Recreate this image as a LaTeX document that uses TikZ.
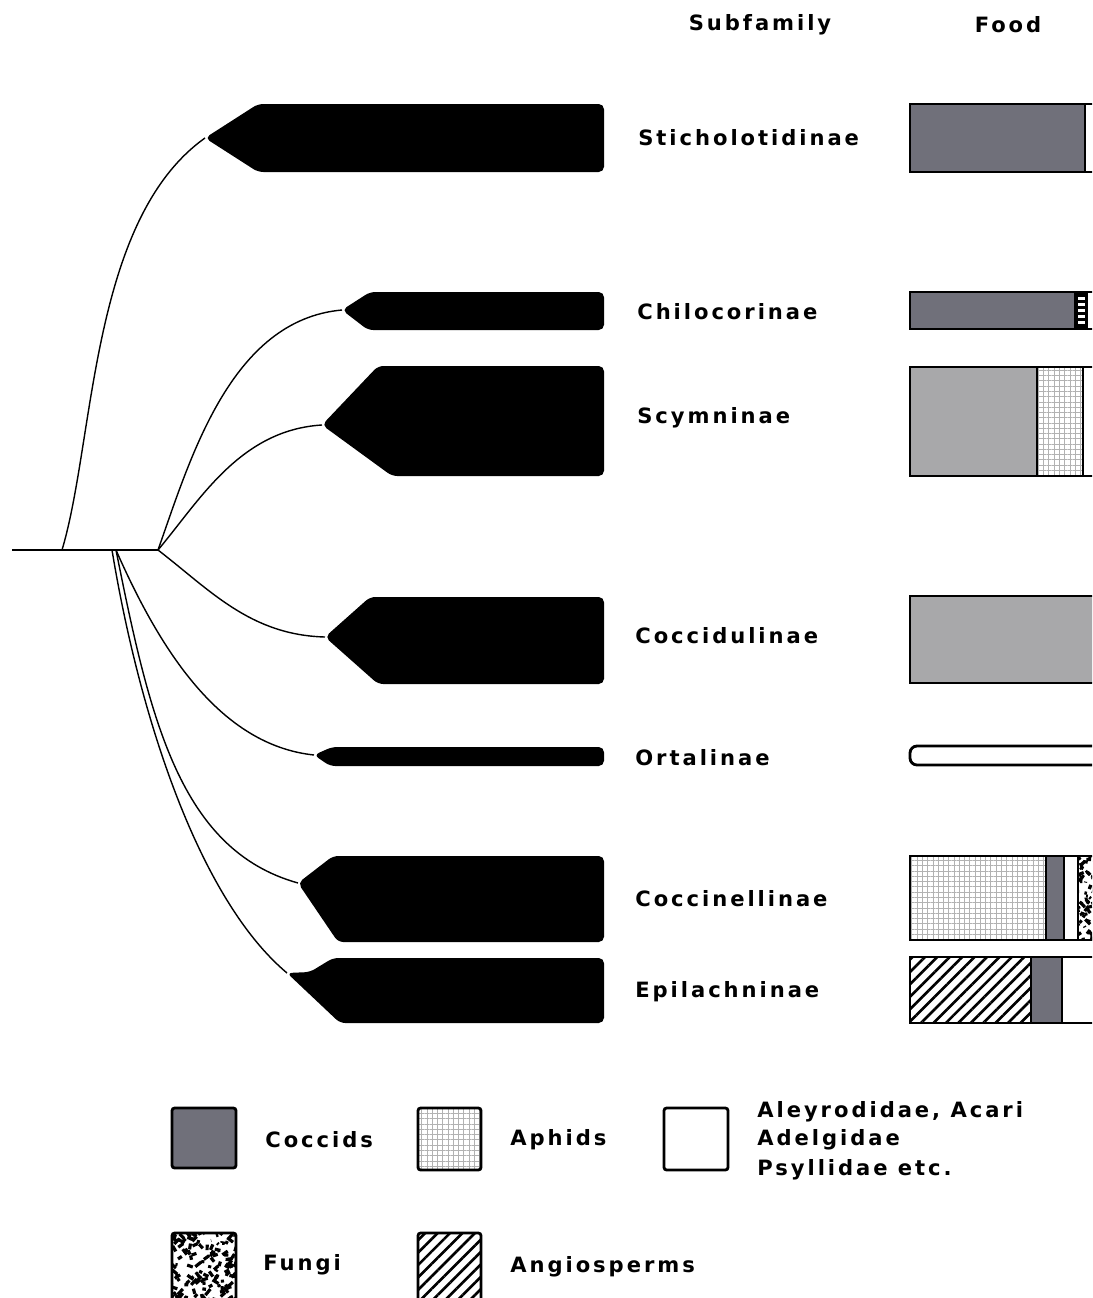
\documentclass[tikz,border=0pt]{standalone}
\usepackage{fontspec}
\setmainfont{DejaVu Sans}
\newfontfamily\labfont[LetterSpace=14]{DejaVu Sans}
\usetikzlibrary{patterns.meta}
\definecolor{coccdark}{RGB}{112,112,122}
\definecolor{coccpale}{RGB}{168,168,170}

\begin{document}
\begin{tikzpicture}[x=0.02cm,y=-0.02cm,
    branch/.style={line width=0.8pt},
    lineage/.style={fill=black,rounded corners=3pt},
    foodbar/.style={draw=black,line width=1.6pt},
    divider/.style={line width=1.2pt},
    legbox/.style={draw=black,line width=1.6pt,rounded corners=1.5pt},
    aphid/.style={pattern={Hatch[angle=0,distance=3pt,line width=0.5pt]},pattern color=gray!60},
    angio/.style={pattern={Lines[angle=45,distance=5pt,line width=1.5pt]}},
    txt/.style={anchor=west,inner sep=0pt,font=\labfont\bfseries\fontsize{12}{14}\selectfont}]
    \useasboundingbox (0,0) rectangle (1092,1298);
    \clip (0,0) rectangle (1092,1298);
    % Titulos
    \node[txt,anchor=center] (hsub) at (760,25) {Subfamily};
    \node[txt,anchor=center] (hfood) at (1008,25) {Food};
    % Pontos de ramificacao
    \coordinate (root) at (12,550);
    \coordinate (nA) at (62,550);
    \coordinate (nB) at (158,550);
    \coordinate (nC) at (116,550);
    \coordinate (nD) at (112,550);
    % Pontas das linhagens
    \coordinate (tStich) at (205,138);
    \coordinate (tChilo) at (342,310);
    \coordinate (tScym) at (322,425);
    \coordinate (tCocci) at (325,637);
    \coordinate (tOrta) at (314,755);
    \coordinate (tCoccin) at (298,883);
    \coordinate (tEpil) at (287,973);
    % Ramos
    \draw[branch] (root) -- (nB);
    \draw[branch] (nA) .. controls (95,440) and (90,220) .. (tStich);
    \draw[branch] (nB) .. controls (190,460) and (230,320) .. (tChilo);
    \draw[branch] (nB) .. controls (200,500) and (240,430) .. (tScym);
    \draw[branch] (nB) .. controls (210,590) and (250,635) .. (tCocci);
    \draw[branch] (nC) .. controls (160,650) and (220,745) .. (tOrta);
    \draw[branch] (nC) .. controls (150,720) and (180,850) .. (tCoccin);
    \draw[branch] (nD) .. controls (140,720) and (200,900) .. (tEpil);
    % Linhagens (barras pretas)
    \fill[lineage] (tStich) -- (258,104) -- (604,104) -- (604,172) -- (258,172) -- cycle;
    \fill[lineage] (tChilo) -- (370,292) -- (604,292) -- (604,330) -- (368,330) -- cycle;
    \fill[lineage] (tScym) -- (378,366) -- (604,366) -- (604,476) -- (392,476) -- cycle;
    \fill[lineage] (tCocci) -- (370,597) -- (604,597) -- (604,684) -- (378,684) -- cycle;
    \fill[lineage] (tOrta) -- (332,747) -- (604,747) -- (604,766) -- (330,766) -- cycle;
    \fill[lineage] (tCoccin) -- (333,856) -- (604,856) -- (604,942) -- (338,942) -- cycle;
    \fill[lineage] (tEpil) -- (310,972) -- (333,958) -- (604,958) -- (604,1023) -- (340,1023) -- cycle;
    % Subfamilias
    \node[txt] (stich) at (638,138) {Sticholotidinae};
    \node[txt] (chilo) at (637,312) {Chilocorinae};
    \node[txt] (scym) at (637,418) {Scymninae};
    \node[txt] (cocci) at (635,636) {Coccidulinae};
    \node[txt] (orta) at (635,758) {Ortalinae};
    \node[txt] (coccin) at (635,899) {Coccinellinae};
    \node[txt] (epil) at (635,992) {Epilachninae};
    % Alimento: Sticholotidinae
    \fill[coccdark] (910,104) rectangle (1085,172);
    \draw[divider] (1085,104) -- (1085,172);
    \draw[foodbar] (910,104) rectangle (1110,172);
    % Alimento: Chilocorinae
    \fill[coccdark] (910,292) rectangle (1074,329);
    \fill[black] (1074,292) rectangle (1088,329);
    \foreach \yy in {297,303,...,321}
        \fill[white] (1078,\yy) rectangle (1085,\yy+3);
    \draw[foodbar] (910,292) rectangle (1110,329);
    % Alimento: Scymninae
    \fill[coccpale] (910,367) rectangle (1037,476);
    \fill[aphid] (1037,367) rectangle (1083,476);
    \draw[divider] (1037,367) -- (1037,476);
    \draw[divider] (1083,367) -- (1083,476);
    \draw[foodbar] (910,367) rectangle (1110,476);
    % Alimento: Coccidulinae
    \fill[coccpale] (910,596) rectangle (1110,683);
    \draw[foodbar] (910,596) rectangle (1110,683);
    % Alimento: Ortalinae
    \draw[foodbar,rounded corners=4pt] (910,746) rectangle (1110,765);
    % Alimento: Coccinellinae
    \fill[aphid] (910,856) rectangle (1046,940);
    \fill[coccdark] (1046,856) rectangle (1064,940);
    \begin{scope}
        \clip (1079,856) rectangle (1110,940);
        \pgfmathsetseed{11}
        \foreach \k in {1,...,60}
            \draw[line width=1.8pt] ({1079+14*rnd},{856+84*rnd}) -- ++({10*rnd-5},{10*rnd-5});
    \end{scope}
    \draw[divider] (1046,856) -- (1046,940);
    \draw[divider] (1064,856) -- (1064,940);
    \draw[divider] (1078,856) -- (1078,940);
    \draw[foodbar] (910,856) rectangle (1110,940);
    % Alimento: Epilachninae
    \fill[angio] (910,957) rectangle (1031,1023);
    \fill[coccdark] (1031,957) rectangle (1062,1023);
    \draw[divider] (1031,957) -- (1031,1023);
    \draw[divider] (1062,957) -- (1062,1023);
    \draw[foodbar] (910,957) rectangle (1110,1023);
    % Legenda
    \fill[coccdark,rounded corners=1.5pt] (172,1108) rectangle (236,1168);
    \draw[legbox] (172,1108) rectangle (236,1168);
    \node[txt] (lcocc) at (265,1140) {Coccids};
    \fill[aphid] (418,1108) rectangle (481,1170);
    \draw[legbox] (418,1108) rectangle (481,1170);
    \node[txt] (laph) at (510,1140) {Aphids};
    \draw[legbox] (664,1108) rectangle (728,1170);
    \node[txt] (lale) at (757,1112) {Aleyrodidae, Acari};
    \node[txt] (ladel) at (757,1140) {Adelgidae};
    \node[txt] (lpsyl) at (757,1170) {Psyllidae etc.};
    \begin{scope}
        \clip (172,1233) rectangle (236,1310);
        \pgfmathsetseed{5}
        \foreach \k in {1,...,140}
            \draw[line width=1.8pt] ({172+64*rnd},{1233+70*rnd}) -- ++({12*rnd-6},{12*rnd-6});
    \end{scope}
    \draw[legbox] (172,1233) rectangle (236,1310);
    \node[txt] (lfung) at (263,1265) {Fungi};
    \fill[angio] (418,1233) rectangle (481,1310);
    \draw[legbox] (418,1233) rectangle (481,1310);
    \node[txt] (lang) at (510,1267) {Angiosperms};
\end{tikzpicture}
\end{document}
